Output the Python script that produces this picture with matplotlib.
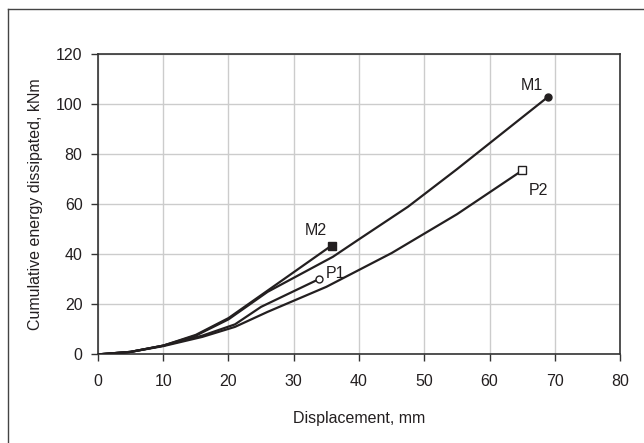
import matplotlib
matplotlib.use("Agg")
import matplotlib.pyplot as plt
from matplotlib.lines import Line2D

plt.rcParams['font.family'] = ['Liberation Sans', 'DejaVu Sans']

m1_x = [0, 5, 10, 15, 20, 26, 36, 40, 47.5, 55, 62, 69]
m1_y = [0, 1, 3.5, 7.5, 14, 25, 39, 46, 59, 74, 88.5, 103]
m2_x = [0, 5, 10, 15, 20, 26, 35.8]
m2_y = [0, 1, 3.5, 7.8, 14.5, 25.5, 43.5]
p1_x = [0, 5, 10, 16, 21, 25, 33.8]
p1_y = [0, 1, 3.5, 7.5, 12, 19, 30]
p2_x = [0, 5, 10, 16, 21, 26, 35, 45, 55, 65]
p2_y = [0, 1, 3.3, 7, 11, 17, 27, 40.5, 56, 73.5]

labels = ["M1", "M2", "P1", "P2"]
label_x = [66.5, 33.4, 36.4, 67.5]
label_y = [107.5, 49.7, 32.5, 65.5]

fig = plt.figure(figsize=(6.44, 4.43), dpi=100)
ax = fig.add_axes([0.152, 0.2, 0.811, 0.678])

lc = '#231f20'
lw = 1.6
ax.plot(m1_x, m1_y, color=lc, lw=lw, zorder=3)
ax.plot(m1_x[-1], m1_y[-1], 'o', color=lc, ms=5, zorder=4)
ax.plot(m2_x, m2_y, color=lc, lw=lw, zorder=3)
ax.plot(m2_x[-1], m2_y[-1], 's', color=lc, ms=6, zorder=4)
ax.plot(p1_x, p1_y, color=lc, lw=lw, zorder=3)
ax.plot(p1_x[-1], p1_y[-1], 'o', mfc='white', mec=lc, mew=1, ms=5, zorder=4)
ax.plot(p2_x, p2_y, color=lc, lw=lw, zorder=3)
ax.plot(p2_x[-1], p2_y[-1], 's', mfc='white', mec=lc, mew=1, ms=5.5, zorder=4)

for t, x, y in zip(labels, label_x, label_y):
    ax.text(x, y, t, fontsize=11.5, color=lc, ha='center', va='center')

ax.set_xlim(0, 80)
ax.set_ylim(0, 120)
ax.set_xticks(range(0, 81, 10))
ax.set_yticks(range(0, 121, 20))
ax.grid(True, color='#cccccc', lw=1)
ax.set_axisbelow(True)
for s in ax.spines.values():
    s.set_color('#333333')
    s.set_linewidth(1.2)
ax.tick_params(direction='out', length=5, width=1, colors='#333333', labelsize=11.5, labelcolor='#231f20')
ax.tick_params(axis='x', pad=9)
ax.tick_params(axis='y', pad=6)
ax.set_xlabel('Displacement, mm', fontsize=11.5, color='#231f20', labelpad=16)
ax.set_ylabel('Cumulative energy dissipated, kNm', fontsize=11.5, color='#231f20', labelpad=9)

fig.add_artist(Line2D([8/644, 8/644], [0, 1 - 9/443], color='#444444', lw=1, transform=fig.transFigure))
fig.add_artist(Line2D([8/644, 1], [1 - 9/443, 1 - 9/443], color='#444444', lw=1, transform=fig.transFigure))

fig.savefig('out.png', dpi=100)
